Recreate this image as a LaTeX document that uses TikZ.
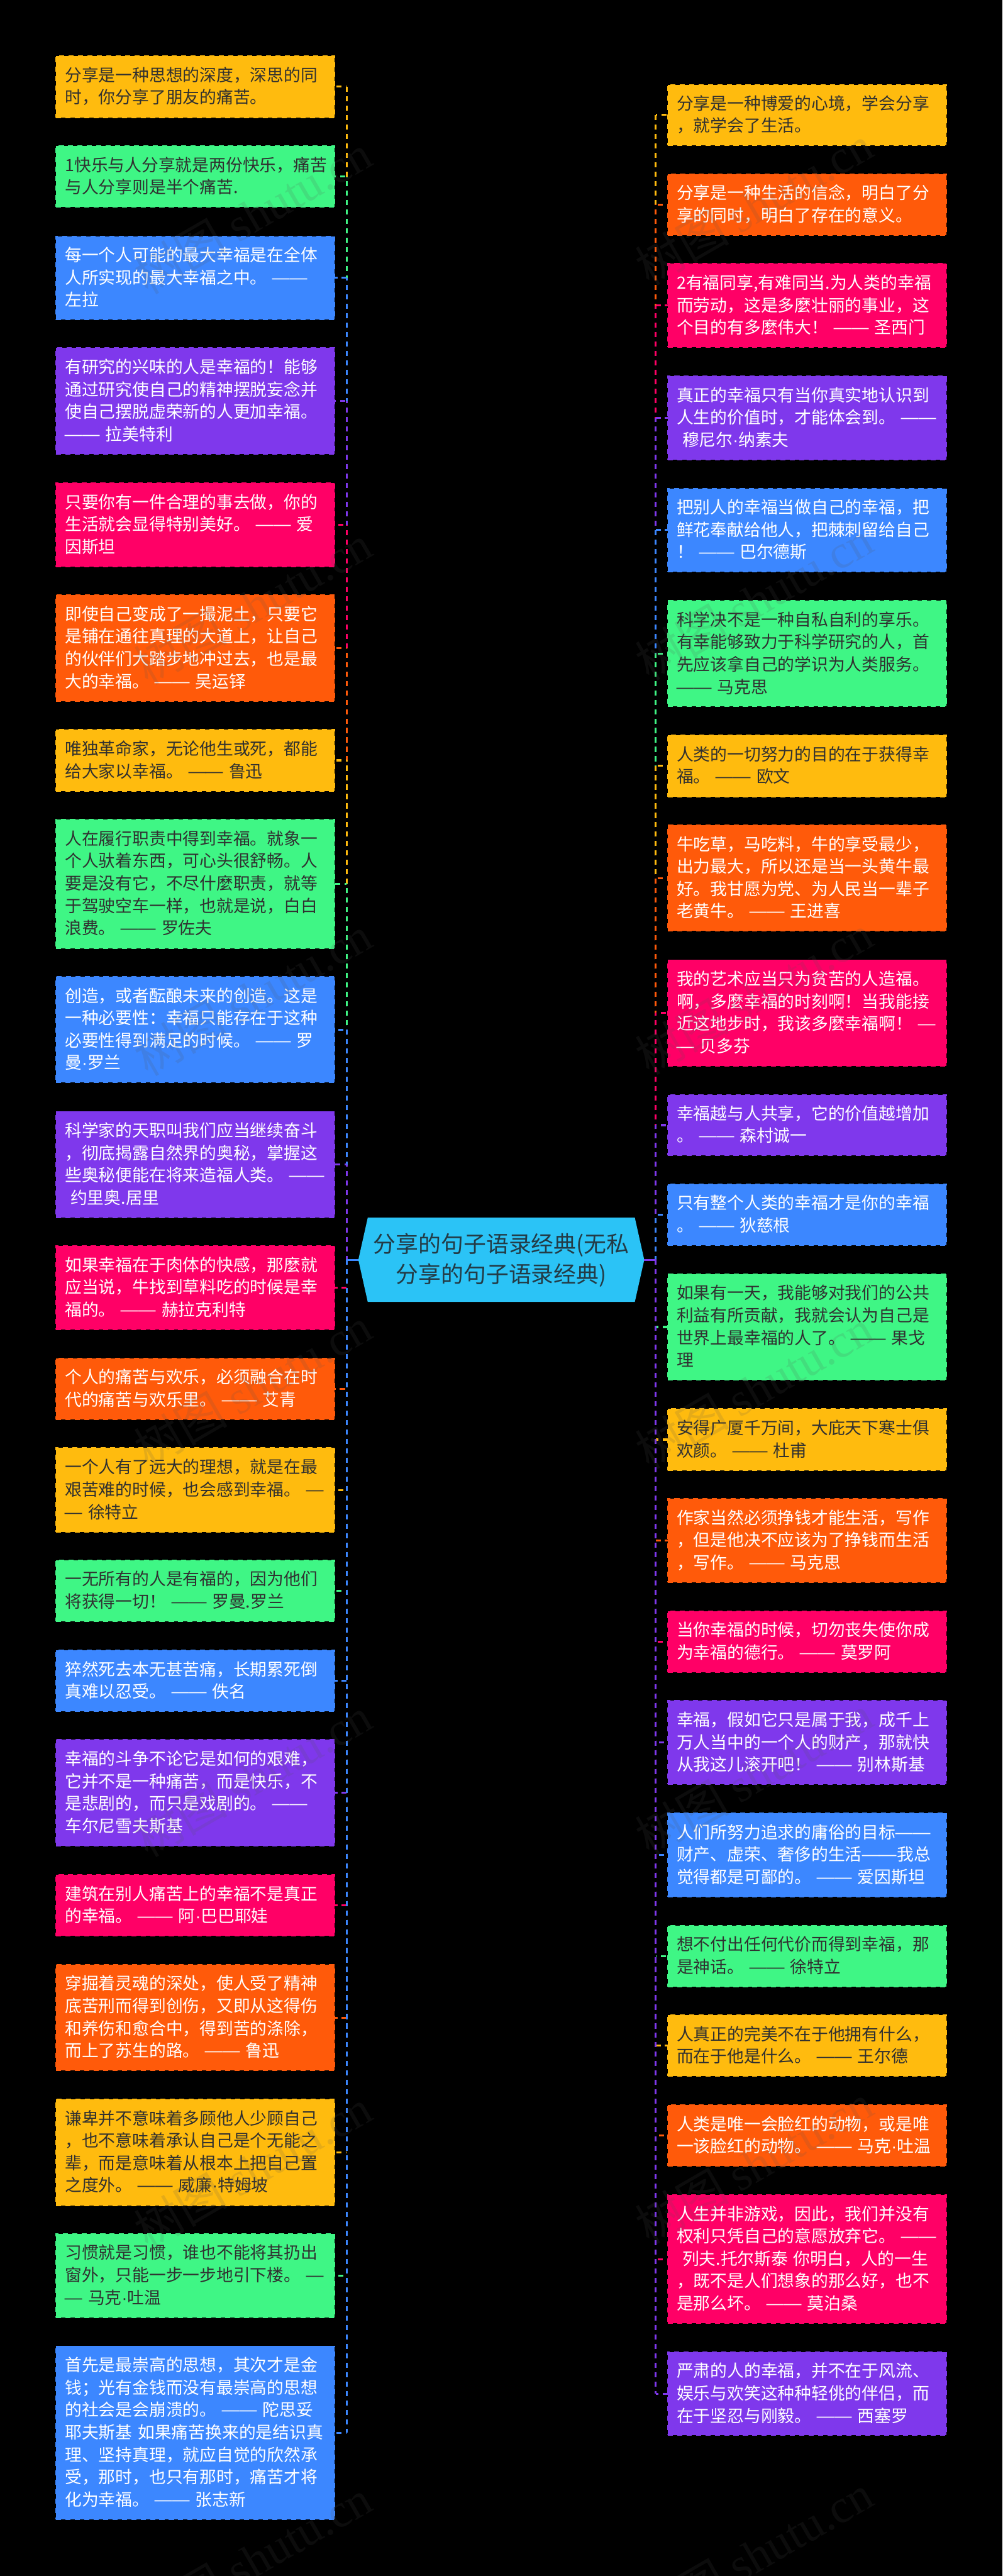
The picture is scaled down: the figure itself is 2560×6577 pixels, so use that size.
\documentclass[tikz,border=0pt]{standalone}
\usepackage{graphicx}
\usepackage{fontspec}
\setmainfont{Noto Sans CJK SC}
\newfontfamily\wmlatin{Liberation Serif}
\newfontfamily\msans{Liberation Sans}
\definecolor{cY}{HTML}{FFBB0E}
\definecolor{cG}{HTML}{3FF685}
\definecolor{cB}{HTML}{3C87FF}
\definecolor{cP}{HTML}{7F38EC}
\definecolor{cM}{HTML}{FF0066}
\definecolor{cO}{HTML}{FF5A0A}
\definecolor{cC}{HTML}{2BC3F6}
\definecolor{tD}{HTML}{303030}
\definecolor{tH}{HTML}{233B46}
\definecolor{wG}{HTML}{555555}
\newcommand{\qfont}{\fontsize{21.5pt}{28.6pt}\selectfont}
\newcommand{\hfont}{\fontsize{28.8pt}{38.4pt}\selectfont}
\newcommand{\wfont}{\fontsize{60pt}{60pt}\selectfont}
\tikzset{
  qbox/.style={rectangle, line width=1.5pt, dash pattern=on 6.5pt off 5.5pt,
    minimum width=356pt, text width=333pt, inner xsep=11.5pt, inner ysep=0pt, outer sep=0pt, align=left,
    font=\qfont},
  spineline/.style={line width=2.5pt, dash pattern=on 6.5pt off 5.535pt},
  hubline/.style={line width=2.5pt},
  wmark/.style={rotate=30, text=wG, text opacity=.15, font=\wfont, inner sep=0pt}
}
\newcommand{\qrule}{\vrule width 0pt height 20pt depth 5.16pt\relax}
\newcommand{\hrulex}{\vrule width 0pt height 26pt depth 4.2pt\relax}
\newcommand{\ddash}{\makebox[1.04em][c]{\scalebox{1.3}[1]{\char"2014 }}}
\newcommand{\mdot}{{\msans\char"B7 }}
\catcode`\—=\active \let—\ddash
\catcode`\·=\active \let·\mdot
\newcommand{\qbx}[7]{%
  \pgfmathsetmacro{\qh}{(#4-#3)*0.5-1}%
  \node[qbox, fill=#5, draw=#5, text=#6, minimum height=\qh pt] (#1) at (#2,{(#3+#4)/2}) {\spaceskip=.33em\relax\leavevmode\qrule #7\qrule};}
% left column box / right column box
\newcommand{\lbx}[6]{\qbx{#1}{499}{#2}{#3}{#4}{#5}{#6}}
\newcommand{\rbx}[6]{\qbx{#1}{2061}{#2}{#3}{#4}{#5}{#6}}
% connector: hub, box, anchor, colour, spine phase (pt), stub offset d (px)
\newcommand{\conn}[6]{%
  \draw[spineline, #4, dash phase=#5pt] (#1) -- (#1 |- #2.#3);
  \pgfmathsetmacro{\qp}{(24-#6)/2}%
  \draw[line width=2.5pt, #4, dash pattern=on 6.5pt off 5.5pt, dash phase=\qp pt] (#1 |- #2.#3) -- (#2.#3);}
\newcommand{\wmk}[3]{\node[wmark] (#1) at (#2,#3) {树图 {\wmlatin shutu.cn}};}
\begin{document}
\begin{tikzpicture}[x=0.5pt,y=-0.5pt]
\fill[black] (0,0) rectangle (2560,6577);
\useasboundingbox (0,0) rectangle (2560,6577);
% centre
\coordinate (tipL) at (915,3216.5);
\coordinate (tipR) at (1645,3216.5);
\coordinate (hubL) at (885.5,3216.5);
\coordinate (hubR) at (1674,3216.5);
\fill[cC] (tipL) -- (939,3109) -- (1621,3109) -- (tipR) -- (1621,3324) -- (939,3324) -- cycle;
\node[text=tH, align=center, inner sep=0pt, font=\hfont] (hub) at (1280,3216.5)
  {\hrulex 分享的句子语录经典(无私\\分享的句子语录经典)\hrulex};
% left boxes
\lbx{L1}{142}{301}{cY}{tD}{分享是一种思想的深度，深思的同\\时，你分享了朋友的痛苦。}
\lbx{L2}{372}{530}{cG}{tD}{1快乐与人分享就是两份快乐，痛苦\\与人分享则是半个痛苦.}
\lbx{L3}{602}{817}{cB}{white}{每一个人可能的最大幸福是在全体\\人所实现的最大幸福之中。 ——\\左拉}
\lbx{L4}{887}{1161}{cP}{white}{有研究的兴味的人是幸福的！能够\\通过研究使自己的精神摆脱妄念并\\使自己摆脱虚荣新的人更加幸福。\\—— 拉美特利}
\lbx{L5}{1232}{1448}{cM}{white}{只要你有一件合理的事去做，你的\\生活就会显得特别美好。 —— 爱\\因斯坦}
\lbx{L6}{1518}{1791}{cO}{white}{即使自己变成了一撮泥土，只要它\\是铺在通往真理的大道上，让自己\\的伙伴们大踏步地冲过去，也是最\\大的幸福。 —— 吴运铎}
\lbx{L7}{1862}{2020.5}{cY}{tD}{唯独革命家，无论他生或死，都能\\给大家以幸福。 —— 鲁迅}
\lbx{L8}{2091}{2422}{cG}{tD}{人在履行职责中得到幸福。就象一\\个人驮着东西，可心头很舒畅。人\\要是没有它，不尽什麼职责，就等\\于驾驶空车一样，也就是说，白白\\浪费。 —— 罗佐夫}
\lbx{L9}{2493}{2765}{cB}{white}{创造，或者酝酿未来的创造。这是\\一种必要性：幸福只能存在于这种\\必要性得到满足的时候。 —— 罗\\曼·罗兰}
\lbx{L10}{2837}{3110}{cP}{white}{科学家的天职叫我们应当继续奋斗\\，彻底揭露自然界的奥秘，掌握这\\些奥秘便能在将来造福人类。 ——\\\hspace*{.33em}约里奥.居里}
\lbx{L11}{3180}{3396}{cM}{white}{如果幸福在于肉体的快感，那麼就\\应当说，牛找到草料吃的时候是幸\\福的。 —— 赫拉克利特}
\lbx{L12}{3467}{3625}{cO}{white}{个人的痛苦与欢乐，必须融合在时\\代的痛苦与欢乐里。 —— 艾青}
\lbx{L13}{3696}{3912.5}{cY}{tD}{一个人有了远大的理想，就是在最\\艰苦难的时候，也会感到幸福。 —\\— 徐特立}
\lbx{L14}{3982}{4141}{cG}{tD}{一无所有的人是有福的，因为他们\\将获得一切！ —— 罗曼.罗兰}
\lbx{L15}{4212.5}{4370.5}{cB}{white}{猝然死去本无甚苦痛，长期累死倒\\真难以忍受。 —— 佚名}
\lbx{L16}{4441}{4714}{cP}{white}{幸福的斗争不论它是如何的艰难，\\它并不是一种痛苦，而是快乐，不\\是悲剧的，而只是戏剧的。 ——\\车尔尼雪夫斯基}
\lbx{L17}{4786}{4944}{cM}{white}{建筑在别人痛苦上的幸福不是真正\\的幸福。 —— 阿·巴巴耶娃}
\lbx{L18}{5015}{5287.5}{cO}{white}{穿掘着灵魂的深处，使人受了精神\\底苦刑而得到创伤，又即从这得伤\\和养伤和愈合中，得到苦的涤除，\\而上了苏生的路。 —— 鲁迅}
\lbx{L19}{5358.5}{5631.5}{cY}{tD}{谦卑并不意味着多顾他人少顾自己\\，也不意味着承认自己是个无能之\\辈，而是意味着从根本上把自己置\\之度外。 —— 威廉·特姆坡}
\lbx{L20}{5702}{5918}{cG}{tD}{习惯就是习惯，谁也不能将其扔出\\窗外，只能一步一步地引下楼。 —\\— 马克·吐温}
\lbx{L21}{5989}{6433.5}{cB}{white}{首先是最崇高的思想，其次才是金\\钱；光有金钱而没有最崇高的思想\\的社会是会崩溃的。 —— 陀思妥\\耶夫斯基 如果痛苦换来的是结识真\\理、坚持真理，就应自觉的欣然承\\受，那时，也只有那时，痛苦才将\\化为幸福。 —— 张志新}
% right boxes
\rbx{R1}{215}{372.5}{cY}{tD}{分享是一种博爱的心境，学会分享\\，就学会了生活。}
\rbx{R2}{443}{601.5}{cO}{white}{分享是一种生活的信念，明白了分\\享的同时，明白了存在的意义。}
\rbx{R3}{672}{888}{cM}{white}{2有福同享,有难同当.为人类的幸福\\而劳动，这是多麼壮丽的事业，这\\个目的有多麼伟大！ —— 圣西门}
\rbx{R4}{959}{1175}{cP}{white}{真正的幸福只有当你真实地认识到\\人生的价值时，才能体会到。 ——\\\hspace*{.33em}穆尼尔·纳素夫}
\rbx{R5}{1246}{1461}{cB}{white}{把别人的幸福当做自己的幸福，把\\鲜花奉献给他人，把棘刺留给自己\\！ —— 巴尔德斯}
\rbx{R6}{1533}{1805}{cG}{tD}{科学决不是一种自私自利的享乐。\\有幸能够致力于科学研究的人，首\\先应该拿自己的学识为人类服务。\\—— 马克思}
\rbx{R7}{1876}{2035}{cY}{tD}{人类的一切努力的目的在于获得幸\\福。 —— 欧文}
\rbx{R8}{2106}{2378}{cO}{white}{牛吃草，马吃料，牛的享受最少，\\出力最大，所以还是当一头黄牛最\\好。我甘愿为党、为人民当一辈子\\老黄牛。 —— 王进喜}
\rbx{R9}{2450}{2722.5}{cM}{white}{我的艺术应当只为贫苦的人造福。\\啊，多麼幸福的时刻啊！当我能接\\近这地步时，我该多麼幸福啊！ —\\— 贝多芬}
\rbx{R10}{2794}{2951}{cP}{white}{幸福越与人共享，它的价值越增加\\。 —— 森村诚一}
\rbx{R11}{3022.5}{3180.5}{cB}{white}{只有整个人类的幸福才是你的幸福\\。 —— 狄慈根}
\rbx{R12}{3252}{3524}{cG}{tD}{如果有一天，我能够对我们的公共\\利益有所贡献，我就会认为自己是\\世界上最幸福的人了。 —— 果戈\\理}
\rbx{R13}{3596}{3755}{cY}{tD}{安得广厦千万间，大庇天下寒士俱\\欢颜。 —— 杜甫}
\rbx{R14}{3825}{4041}{cO}{white}{作家当然必须挣钱才能生活，写作\\，但是他决不应该为了挣钱而生活\\，写作。 —— 马克思}
\rbx{R15}{4112.5}{4270}{cM}{white}{当你幸福的时候，切勿丧失使你成\\为幸福的德行。 —— 莫罗阿}
\rbx{R16}{4341}{4557}{cP}{white}{幸福，假如它只是属于我，成千上\\万人当中的一个人的财产，那就快\\从我这儿滚开吧！ —— 别林斯基}
\rbx{R17}{4628}{4844}{cB}{white}{人们所努力追求的庸俗的目标——\\财产、虚荣、奢侈的生活——我总\\觉得都是可鄙的。 —— 爱因斯坦}
\rbx{R18}{4915}{5073}{cG}{tD}{想不付出任何代价而得到幸福，那\\是神话。 —— 徐特立}
\rbx{R19}{5144}{5301.5}{cY}{tD}{人真正的完美不在于他拥有什么，\\而在于他是什么。 —— 王尔德}
\rbx{R20}{5373}{5531.5}{cO}{white}{人类是唯一会脸红的动物，或是唯\\一该脸红的动物。 —— 马克·吐温}
\rbx{R21}{5602.5}{5933}{cM}{white}{人生并非游戏，因此，我们并没有\\权利只凭自己的意愿放弃它。 ——\\\hspace*{.33em}列夫.托尔斯泰 你明白，人的一生\\，既不是人们想象的那么好，也不\\是那么坏。 —— 莫泊桑}
\rbx{R22}{6004}{6219}{cP}{white}{严肃的人的幸福，并不在于风流、\\娱乐与欢笑这种种轻佻的伴侣，而\\在于坚忍与刚毅。 —— 西塞罗}
% left connectors (later ones lie over earlier ones)
\conn{hubL}{L1}{east}{cY}{1.5}{13.5}
\conn{hubL}{L2}{east}{cG}{1.5}{3.5}
\conn{hubL}{L3}{east}{cB}{1.5}{0}
\conn{hubL}{L4}{east}{cP}{1.5}{3.5}
\conn{hubL}{L5}{east}{cM}{1.5}{9}
\conn{hubL}{L6}{east}{cO}{1.5}{14}
\conn{hubL}{L7}{east}{cY}{1.5}{14}
\conn{hubL}{L8}{east}{cG}{1.5}{17}
\conn{hubL}{L9}{east}{cB}{1.5}{9}
\conn{hubL}{L10}{east}{cP}{1.5}{17}
\conn{hubL}{L11}{east}{cM}{0}{0}
\conn{hubL}{L12}{east}{cO}{0}{4.7}
\conn{hubL}{L13}{east}{cY}{0}{9}
\conn{hubL}{L14}{east}{cG}{0}{14}
\conn{hubL}{L15}{east}{cB}{0}{0}
\conn{hubL}{L16}{east}{cP}{0}{0}
\conn{hubL}{L17}{east}{cM}{0}{0}
\conn{hubL}{L18}{east}{cO}{0}{0}
\conn{hubL}{L19}{east}{cY}{0}{14}
\conn{hubL}{L20}{east}{cG}{0}{9}
\conn{hubL}{L21}{east}{cB}{0}{14}
\draw[hubline, cB] (hubL) -- (tipL);
% right connectors
\conn{hubR}{R1}{west}{cY}{1.5}{14.4}
\conn{hubR}{R2}{west}{cO}{1.5}{5.7}
\conn{hubR}{R3}{west}{cM}{1.5}{0}
\conn{hubR}{R4}{west}{cP}{1.5}{0}
\conn{hubR}{R5}{west}{cB}{1.5}{0}
\conn{hubR}{R6}{west}{cG}{1.5}{5}
\conn{hubR}{R7}{west}{cY}{1.5}{5}
\conn{hubR}{R8}{west}{cO}{1.5}{5}
\conn{hubR}{R9}{west}{cM}{1.5}{14}
\conn{hubR}{R10}{west}{cP}{1.5}{14}
\conn{hubR}{R11}{west}{cB}{1.5}{5}
\conn{hubR}{R12}{west}{cG}{0}{18}
\conn{hubR}{R13}{west}{cY}{0}{18}
\conn{hubR}{R14}{west}{cO}{0}{0}
\conn{hubR}{R15}{west}{cM}{0}{5}
\conn{hubR}{R16}{west}{cP}{0}{9}
\conn{hubR}{R17}{west}{cB}{0}{9}
\conn{hubR}{R18}{west}{cG}{0}{14}
\conn{hubR}{R19}{west}{cY}{0}{0}
\conn{hubR}{R20}{west}{cO}{0}{9}
\conn{hubR}{R21}{west}{cM}{0}{5}
\conn{hubR}{R22}{west}{cP}{0}{18}
\draw[hubline, cP] (tipR) -- (hubR);
% watermark
\wmk{wa}{645}{547}
\wmk{wb}{645}{1544}
\wmk{wc}{645}{2542}
\wmk{wd}{645}{3542}
\wmk{we}{645}{4537}
\wmk{wf}{645}{5537}
\wmk{wg}{645}{6534}
\wmk{wh}{1925}{524}
\wmk{wi}{1925}{1532}
\wmk{wj}{1925}{2539}
\wmk{wk}{1925}{3547}
\wmk{wl}{1925}{4532}
\wmk{wm}{1925}{5525}
\wmk{wn}{1925}{6522}
\end{tikzpicture}
\end{document}
